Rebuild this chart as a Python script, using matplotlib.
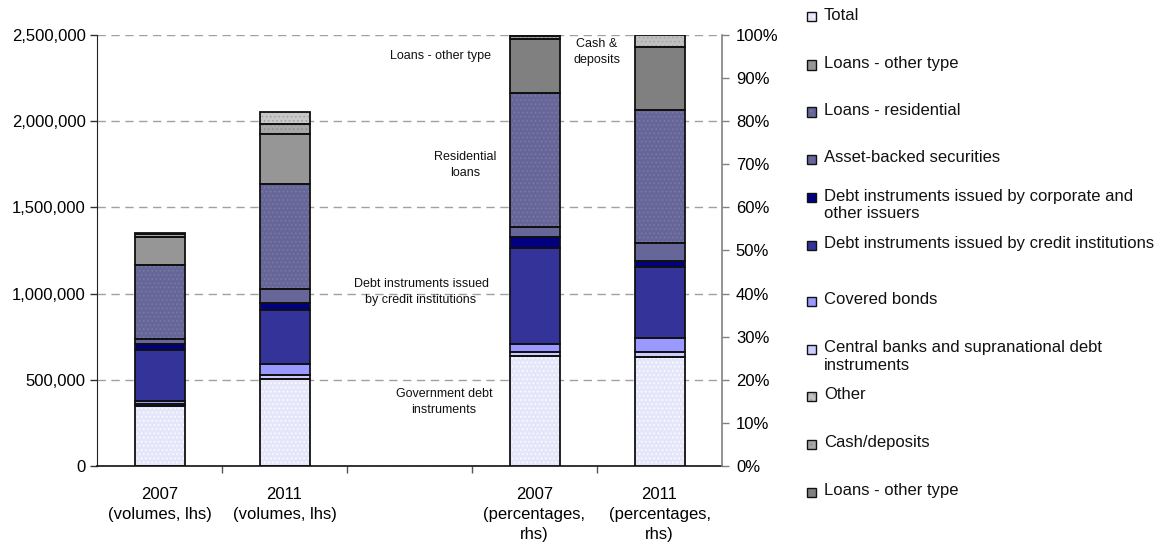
import matplotlib
matplotlib.use("Agg")
import matplotlib.pyplot as plt
from matplotlib.patches import Rectangle
from matplotlib.ticker import FuncFormatter, MultipleLocator, FixedLocator

plt.rcParams["font.family"] = ["Liberation Sans", "DejaVu Sans"]
plt.rcParams["hatch.linewidth"] = 0.6

# Stacking order, bottom to top
segments = [
    "Government debt instruments",
    "Central banks and supranational debt instruments",
    "Covered bonds",
    "Debt instruments issued by credit institutions",
    "Debt instruments issued by corporate and other issuers",
    "Asset-backed securities",
    "Loans - residential",
    "Loans - other type",
    "Cash/deposits",
    "Other",
]

# Volumes (left axis)
vol_2007 = [347000, 12000, 20000, 294000, 35000, 30000, 429000, 164000, 14000, 9000]
vol_2011 = [502000, 27000, 62000, 313000, 39000, 83000, 612000, 290000, 54000, 74000]

# Shares in percent (right axis)
pct_2007 = [25.6, 0.8, 1.8, 22.3, 2.6, 2.3, 31.1, 12.6, 0.6, 0.3]
pct_2011 = [25.3, 1.2, 3.2, 16.4, 1.5, 4.1, 30.8, 14.8, 0.0, 2.7]

categories = ["2007\n(volumes, lhs)", "2011\n(volumes, lhs)", "",
              "2007\n(percentages,\nrhs)", "2011\n(percentages,\nrhs)"]

legend_labels = [
    "Total",
    "Loans - other type",
    "Loans - residential",
    "Asset-backed securities",
    "Debt instruments issued by corporate and\nother issuers",
    "Debt instruments issued by credit institutions",
    "Covered bonds",
    "Central banks and supranational debt\ninstruments",
    "Other",
    "Cash/deposits",
    "Loans - other type",
]

# Fill colour and optional dotted texture per segment (volume bars)
vol_style = {
    "Government debt instruments": ("#E6E6FA", "#FFFFFF"),
    "Central banks and supranational debt instruments": ("#CCCCFF", None),
    "Covered bonds": ("#9999FF", None),
    "Debt instruments issued by credit institutions": ("#333399", None),
    "Debt instruments issued by corporate and other issuers": ("#000080", None),
    "Asset-backed securities": ("#666699", None),
    "Loans - residential": ("#666699", "#7C7CA8"),
    "Loans - other type": ("#969696", None),
    "Cash/deposits": ("#A8A8A8", "#8C8C8C"),
    "Other": ("#C8C8C8", "#A0A0A0"),
}
pct_style = dict(vol_style)
pct_style["Loans - other type"] = ("#808080", None)
pct_style["Other"] = ("#C0C0C0", "#A4A4A4")

legend_style = [
    ("#E6E6FA", "#FFFFFF"), ("#969696", None), ("#666699", "#7C7CA8"),
    ("#666699", None), ("#000080", None), ("#333399", None),
    ("#9999FF", None), ("#CCCCFF", None), ("#C0C0C0", "#A0A0A0"),
    ("#A8A8A8", "#8C8C8C"), ("#808080", None),
]

W, H = 1176, 549
fig = plt.figure(figsize=(W / 100, H / 100), dpi=100)
ax = fig.add_axes([97 / W, 1 - 466 / H, (722 - 97) / W, (466 - 35) / H])
ax2 = ax.twinx()

width = 0.4


def stack(axis, xpos, values, style):
    bottom = 0
    for name, v in zip(segments, values):
        if v <= 0:
            continue
        face, dots = style[name]
        axis.bar(xpos, v, width, bottom=bottom, color=face, linewidth=0, zorder=2)
        if dots:
            axis.bar(xpos, v, width, bottom=bottom, color="none", edgecolor=dots,
                     hatch="....", linewidth=0, zorder=3)
        axis.bar(xpos, v, width, bottom=bottom, fill=False, edgecolor="#111111",
                 linewidth=1.3, zorder=4)
        bottom += v


stack(ax, 0, vol_2007, vol_style)
stack(ax, 1, vol_2011, vol_style)
stack(ax2, 3, pct_2007, pct_style)
stack(ax2, 4, pct_2011, pct_style)

# Left axis: volumes
ax.set_xlim(-0.5, 4.5)
ax.set_ylim(0, 2500000)
ax.yaxis.set_major_locator(MultipleLocator(500000))
ax.yaxis.set_major_formatter(FuncFormatter(lambda v, p: f"{int(v):,}"))
ax.grid(axis="y", color="#A0A0A0", linestyle=(0, (6, 4)), linewidth=1.0, zorder=0)
ax.set_axisbelow(True)
ax.tick_params(axis="y", labelsize=12, length=5, width=1, color="#333333", pad=3)

ax.xaxis.set_major_locator(FixedLocator([0, 1, 2, 3, 4]))
ax.set_xticklabels(categories, fontsize=12, linespacing=1.42)
ax.xaxis.set_minor_locator(FixedLocator([0.5, 1.5, 2.5, 3.5]))
ax.tick_params(axis="x", which="major", length=0, pad=15)
ax.tick_params(axis="x", which="minor", length=5, width=1, color="#555555")

for s in ("top", "right"):
    ax.spines[s].set_visible(False)
ax.spines["left"].set_color("#222222")
ax.spines["bottom"].set_color("#111111")
ax.spines["bottom"].set_linewidth(1.2)

# Right axis: percentages
ax2.set_ylim(0, 100)
ax2.yaxis.set_major_locator(MultipleLocator(10))
ax2.yaxis.set_major_formatter(FuncFormatter(lambda v, p: f"{int(v)}%"))
ax2.tick_params(axis="y", labelsize=12, length=5, width=1, color="#808080", pad=5)
for s in ("top", "left", "bottom"):
    ax2.spines[s].set_visible(False)
ax2.spines["right"].set_color("#808080")
ax2.spines["right"].set_linewidth(1.2)


def fx(x):
    return x / W


def fy(y):
    return 1 - y / H


# Annotations beside the percentage bars
notes = [
    ("Loans - other type", 440, 56),
    ("Residential\nloans", 465, 165),
    ("Debt instruments issued\nby credit institutions", 421, 292),
    ("Government debt\ninstruments", 444, 402),
    ("Cash &\ndeposits", 597, 52),
]
for txt, x, y in notes:
    fig.text(fx(x), fy(y), txt, ha="center", va="center", fontsize=9,
             linespacing=1.4, color="#111111")

# Legend
leg_y = [16.7, 65, 112, 159, 197.5, 245, 301, 349, 396, 444, 492]
for (label, (face, dots), y) in zip(legend_labels, legend_style, leg_y):
    sq = 9
    fig.add_artist(Rectangle((fx(807), fy(y + sq / 2)), sq / W, sq / H,
                             transform=fig.transFigure, facecolor=face,
                             edgecolor="none"))
    if dots:
        fig.add_artist(Rectangle((fx(807), fy(y + sq / 2)), sq / W, sq / H,
                                 transform=fig.transFigure, facecolor="none",
                                 edgecolor=dots, hatch="...", linewidth=0))
    fig.add_artist(Rectangle((fx(807), fy(y + sq / 2)), sq / W, sq / H,
                             transform=fig.transFigure, fill=False,
                             edgecolor="#111111", linewidth=1.0))
    fig.text(fx(824), fy(y - 9), label, ha="left", va="top", fontsize=12,
             linespacing=1.25, color="#111111")

fig.savefig("out.png", dpi=100)
